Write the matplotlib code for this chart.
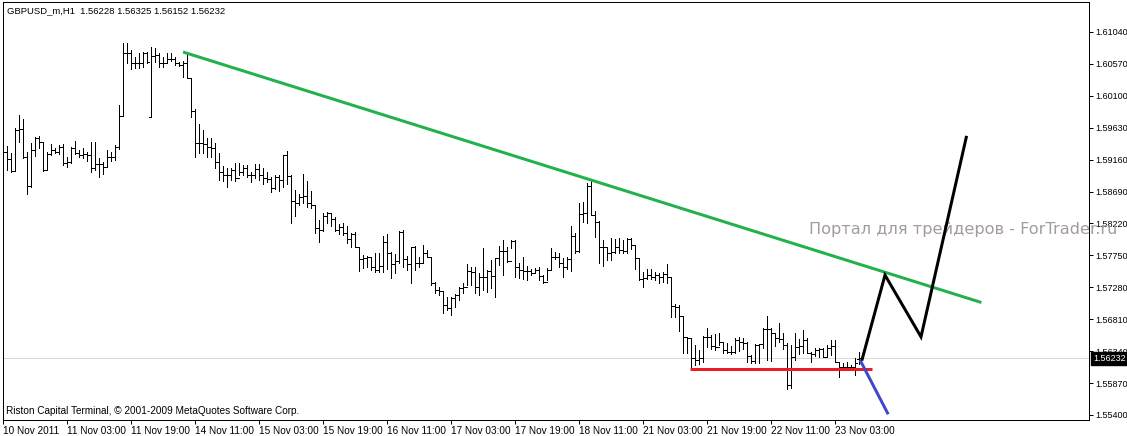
import matplotlib
matplotlib.use("Agg")
import matplotlib.pyplot as plt
import matplotlib.transforms as mtransforms
import numpy as np

# ---------------- data (GBPUSD_m, H1) ----------------
time_labels = ["10 Nov 2011", "11 Nov 03:00", "11 Nov 19:00", "14 Nov 11:00",
               "15 Nov 03:00", "15 Nov 19:00", "16 Nov 11:00", "17 Nov 03:00",
               "17 Nov 19:00", "18 Nov 11:00", "21 Nov 03:00", "21 Nov 19:00",
               "22 Nov 11:00", "23 Nov 03:00"]
label_bar_index = [0, 16, 32, 48, 64, 80, 96, 112, 128, 144, 160, 176, 192, 208]

closes = [
    1.5927, 1.5917, 1.5899, 1.5960, 1.5961, 1.5920, 1.5877, 1.5930, 1.5948, 1.5942,
    1.5901, 1.5924, 1.5930, 1.5927, 1.5935, 1.5911, 1.5913, 1.5933, 1.5926, 1.5923,
    1.5924, 1.5923, 1.5904, 1.5910, 1.5910, 1.5905, 1.5920, 1.5920, 1.5935, 1.5980,
    1.6073, 1.6073, 1.6058, 1.6058, 1.6058, 1.6073, 1.6060, 1.6069, 1.6070, 1.6058,
    1.6058, 1.6064, 1.6064, 1.6058, 1.6055, 1.6058, 1.6036, 1.5988, 1.5941, 1.5941,
    1.5939, 1.5935, 1.5933, 1.5913, 1.5898, 1.5893, 1.5893, 1.5901, 1.5889, 1.5898,
    1.5904, 1.5893, 1.5893, 1.5902, 1.5893, 1.5889, 1.5887, 1.5874, 1.5890, 1.5886,
    1.5923, 1.5892, 1.5855, 1.5852, 1.5861, 1.5862, 1.5852, 1.5849, 1.5815, 1.5812,
    1.5833, 1.5837, 1.5829, 1.5812, 1.5817, 1.5808, 1.5799, 1.5806, 1.5787, 1.5770,
    1.5771, 1.5773, 1.5758, 1.5754, 1.5759, 1.5795, 1.5779, 1.5762, 1.5767, 1.5809,
    1.5770, 1.5762, 1.5787, 1.5764, 1.5764, 1.5779, 1.5773, 1.5734, 1.5724, 1.5723,
    1.5702, 1.5698, 1.5712, 1.5717, 1.5727, 1.5728, 1.5752, 1.5751, 1.5728, 1.5743,
    1.5743, 1.5752, 1.5745, 1.5771, 1.5781, 1.5781, 1.5767, 1.5796, 1.5758, 1.5754,
    1.5752, 1.5752, 1.5749, 1.5754, 1.5745, 1.5736, 1.5754, 1.5773, 1.5773, 1.5764,
    1.5758, 1.5770, 1.5804, 1.5781, 1.5836, 1.5837, 1.5877, 1.5834, 1.5824, 1.5787,
    1.5787, 1.5779, 1.5780, 1.5787, 1.5783, 1.5781, 1.5799, 1.5790, 1.5771, 1.5740,
    1.5742, 1.5746, 1.5743, 1.5746, 1.5743, 1.5748, 1.5743, 1.5700, 1.5699, 1.5686,
    1.5655, 1.5653, 1.5624, 1.5621, 1.5624, 1.5655, 1.5655, 1.5642, 1.5640, 1.5647,
    1.5636, 1.5633, 1.5633, 1.5650, 1.5647, 1.5646, 1.5627, 1.5620, 1.5643, 1.5645,
    1.5667, 1.5667, 1.5661, 1.5653, 1.5652, 1.5643, 1.5584, 1.5625, 1.5640, 1.5642,
    1.5650, 1.5631, 1.5630, 1.5636, 1.5637, 1.5625, 1.5639, 1.5642, 1.5618, 1.5611,
    1.5611, 1.5611, 1.5611, 1.5617, 1.56232]

opens = [
    1.5923, 1.5927, 1.5917, 1.5899, 1.5960, 1.5961, 1.5920, 1.5877, 1.5930, 1.5948,
    1.5942, 1.5901, 1.5924, 1.5930, 1.5927, 1.5935, 1.5911, 1.5913, 1.5933, 1.5926,
    1.5923, 1.5924, 1.5923, 1.5904, 1.5910, 1.5910, 1.5905, 1.5920, 1.5920, 1.5935,
    1.5980, 1.6073, 1.6073, 1.6058, 1.6058, 1.6058, 1.6073, 1.5979, 1.6069, 1.6070,
    1.6058, 1.6058, 1.6064, 1.6064, 1.6058, 1.6055, 1.6058, 1.6036, 1.5988, 1.5941,
    1.5941, 1.5939, 1.5935, 1.5933, 1.5913, 1.5898, 1.5893, 1.5893, 1.5901, 1.5889,
    1.5898, 1.5904, 1.5893, 1.5893, 1.5902, 1.5893, 1.5889, 1.5887, 1.5874, 1.5890,
    1.5886, 1.5923, 1.5892, 1.5855, 1.5852, 1.5861, 1.5862, 1.5852, 1.5849, 1.5815,
    1.5812, 1.5833, 1.5837, 1.5829, 1.5812, 1.5817, 1.5808, 1.5799, 1.5806, 1.5787,
    1.5770, 1.5771, 1.5773, 1.5758, 1.5754, 1.5759, 1.5795, 1.5779, 1.5762, 1.5767,
    1.5809, 1.5770, 1.5762, 1.5787, 1.5764, 1.5764, 1.5779, 1.5773, 1.5734, 1.5724,
    1.5723, 1.5702, 1.5698, 1.5712, 1.5717, 1.5727, 1.5728, 1.5752, 1.5751, 1.5728,
    1.5743, 1.5743, 1.5752, 1.5745, 1.5771, 1.5781, 1.5781, 1.5767, 1.5796, 1.5758,
    1.5754, 1.5752, 1.5752, 1.5749, 1.5754, 1.5745, 1.5736, 1.5754, 1.5773, 1.5773,
    1.5764, 1.5758, 1.5770, 1.5804, 1.5781, 1.5836, 1.5837, 1.5877, 1.5834, 1.5824,
    1.5787, 1.5787, 1.5779, 1.5780, 1.5787, 1.5783, 1.5781, 1.5799, 1.5790, 1.5771,
    1.5740, 1.5742, 1.5746, 1.5743, 1.5746, 1.5743, 1.5748, 1.5743, 1.5700, 1.5699,
    1.5686, 1.5655, 1.5653, 1.5624, 1.5621, 1.5624, 1.5655, 1.5655, 1.5642, 1.5640,
    1.5647, 1.5636, 1.5633, 1.5633, 1.5650, 1.5647, 1.5646, 1.5627, 1.5620, 1.5643,
    1.5645, 1.5667, 1.5667, 1.5661, 1.5653, 1.5652, 1.5643, 1.5584, 1.5625, 1.5640,
    1.5642, 1.5650, 1.5631, 1.5630, 1.5636, 1.5637, 1.5625, 1.5639, 1.5642, 1.5618,
    1.5611, 1.5611, 1.5611, 1.5611, 1.56228]

highs = [
    1.5935, 1.5936, 1.5926, 1.5963, 1.5982, 1.5976, 1.5927, 1.5941, 1.5949, 1.5951,
    1.5942, 1.5927, 1.5939, 1.5933, 1.5938, 1.5939, 1.5920, 1.5935, 1.5943, 1.5930,
    1.5933, 1.5927, 1.5942, 1.5942, 1.5918, 1.5913, 1.5930, 1.5927, 1.5938, 1.5996,
    1.6088, 1.6088, 1.6078, 1.6067, 1.6073, 1.6075, 1.6075, 1.6082, 1.6080, 1.6073,
    1.6067, 1.6073, 1.6073, 1.6067, 1.6060, 1.6061, 1.6070, 1.6036, 1.5991, 1.5969,
    1.5960, 1.5948, 1.5948, 1.5941, 1.5926, 1.5907, 1.5904, 1.5904, 1.5911, 1.5911,
    1.5908, 1.5908, 1.5898, 1.5910, 1.5910, 1.5904, 1.5898, 1.5890, 1.5893, 1.5893,
    1.5923, 1.5929, 1.5893, 1.5871, 1.5865, 1.5895, 1.5885, 1.5870, 1.5849, 1.5827,
    1.5837, 1.5839, 1.5837, 1.5832, 1.5821, 1.5823, 1.5818, 1.5808, 1.5809, 1.5787,
    1.5776, 1.5774, 1.5771, 1.5779, 1.5779, 1.5804, 1.5806, 1.5780, 1.5777, 1.5811,
    1.5812, 1.5774, 1.5787, 1.5789, 1.5773, 1.5790, 1.5783, 1.5773, 1.5736, 1.5728,
    1.5723, 1.5714, 1.5714, 1.5718, 1.5728, 1.5734, 1.5762, 1.5758, 1.5758, 1.5749,
    1.5786, 1.5754, 1.5768, 1.5771, 1.5789, 1.5798, 1.5787, 1.5798, 1.5798, 1.5764,
    1.5773, 1.5759, 1.5755, 1.5756, 1.5758, 1.5746, 1.5756, 1.5786, 1.5780, 1.5779,
    1.5771, 1.5773, 1.5818, 1.5808, 1.5852, 1.5854, 1.5882, 1.5886, 1.5840, 1.5826,
    1.5798, 1.5787, 1.5801, 1.5799, 1.5801, 1.5798, 1.5801, 1.5801, 1.5790, 1.5771,
    1.5751, 1.5755, 1.5755, 1.5751, 1.5749, 1.5751, 1.5762, 1.5743, 1.5703, 1.5702,
    1.5686, 1.5655, 1.5653, 1.5643, 1.5636, 1.5656, 1.5668, 1.5658, 1.5659, 1.5661,
    1.5647, 1.5646, 1.5642, 1.5653, 1.5655, 1.5653, 1.5647, 1.5628, 1.5645, 1.5645,
    1.5668, 1.5686, 1.5668, 1.5661, 1.5676, 1.5661, 1.5646, 1.5643, 1.5661, 1.5652,
    1.5665, 1.5653, 1.5633, 1.5639, 1.5639, 1.5639, 1.5643, 1.5650, 1.5650, 1.5618,
    1.5617, 1.5618, 1.5614, 1.5624, 1.56325]

lows = [
    1.5905, 1.5901, 1.5898, 1.5899, 1.5942, 1.5918, 1.5865, 1.5876, 1.5921, 1.5933,
    1.5899, 1.5901, 1.5923, 1.5926, 1.5924, 1.5908, 1.5905, 1.5911, 1.5924, 1.5920,
    1.5918, 1.5914, 1.5898, 1.5901, 1.5890, 1.5895, 1.5905, 1.5914, 1.5916, 1.5932,
    1.5980, 1.6058, 1.6049, 1.6051, 1.6051, 1.6052, 1.6058, 1.5979, 1.6060, 1.6052,
    1.6052, 1.6060, 1.6061, 1.6055, 1.6054, 1.6038, 1.6036, 1.5979, 1.5920, 1.5926,
    1.5926, 1.5920, 1.5920, 1.5904, 1.5886, 1.5885, 1.5876, 1.5886, 1.5885, 1.5893,
    1.5893, 1.5890, 1.5883, 1.5889, 1.5886, 1.5880, 1.5883, 1.5868, 1.5873, 1.5870,
    1.5876, 1.5880, 1.5823, 1.5833, 1.5849, 1.5852, 1.5846, 1.5845, 1.5808, 1.5795,
    1.5811, 1.5823, 1.5818, 1.5811, 1.5806, 1.5805, 1.5793, 1.5787, 1.5787, 1.5752,
    1.5756, 1.5758, 1.5754, 1.5751, 1.5751, 1.5751, 1.5755, 1.5742, 1.5749, 1.5764,
    1.5758, 1.5754, 1.5734, 1.5754, 1.5758, 1.5764, 1.5773, 1.5731, 1.5720, 1.5717,
    1.5690, 1.5695, 1.5687, 1.5699, 1.5709, 1.5720, 1.5731, 1.5731, 1.5720, 1.5717,
    1.5724, 1.5721, 1.5727, 1.5714, 1.5761, 1.5746, 1.5765, 1.5786, 1.5743, 1.5742,
    1.5740, 1.5739, 1.5746, 1.5749, 1.5739, 1.5734, 1.5739, 1.5754, 1.5770, 1.5758,
    1.5743, 1.5755, 1.5752, 1.5779, 1.5780, 1.5824, 1.5823, 1.5834, 1.5802, 1.5764,
    1.5759, 1.5768, 1.5768, 1.5779, 1.5779, 1.5779, 1.5779, 1.5784, 1.5755, 1.5739,
    1.5728, 1.5740, 1.5740, 1.5739, 1.5734, 1.5736, 1.5734, 1.5684, 1.5684, 1.5664,
    1.5631, 1.5631, 1.5611, 1.5614, 1.5615, 1.5618, 1.5640, 1.5637, 1.5636, 1.5643,
    1.5631, 1.5631, 1.5630, 1.5631, 1.5634, 1.5637, 1.5618, 1.5617, 1.5617, 1.5617,
    1.5639, 1.5621, 1.5620, 1.5642, 1.5647, 1.5637, 1.5578, 1.5580, 1.5621, 1.5630,
    1.5631, 1.5631, 1.5618, 1.5627, 1.5625, 1.5625, 1.5625, 1.5628, 1.5618, 1.5596,
    1.5609, 1.5609, 1.5606, 1.5599, 1.56152]

# Hand-drawn analysis lines (bar index, price)
trend_green_x = [45.0, 244.6]
trend_green_y = [1.60745, 1.57056]
support_red_x = [171.75, 217.25]
support_red_y = [1.56075, 1.56075]
blue_x = [214.25, 221.3]
blue_y = [1.56210, 1.55410]
zigzag_x = [214.7, 220.5, 229.5, 240.9]
zigzag_y = [1.56200, 1.57460, 1.56550, 1.59510]

y_ticks = [1.61040, 1.60570, 1.60100, 1.59630, 1.59160, 1.58690, 1.58220,
           1.57750, 1.57280, 1.56810, 1.56340, 1.55870, 1.55400]
current_price = 1.56232
header_text = "GBPUSD_m,H1  1.56228 1.56325 1.56152 1.56232"
footer_text = "Riston Capital Terminal, \u00a9 2001-2009 MetaQuotes Software Corp."
watermark_text = "Портал для трейдеров - ForTrader.ru"

# ---------------- figure ----------------
W, H = 1127, 436
fig = plt.figure(figsize=(W / 100, H / 100), dpi=100)
fig.patch.set_facecolor("white")
ax = fig.add_axes([2.5 / W, (H - 419.5) / H, (1089 - 2.5) / W, (419.5 - 2.5) / H])
ax.set_facecolor("white")

PX = 0.72  # one pixel in points
FONT = "Liberation Sans"

x = np.arange(len(closes))
ax.set_xlim(-0.125, 271.5)
ax.set_ylim(1.55333, 1.61474)

# current price dotted line
ax.axhline(current_price, color="#b4b4b4", lw=PX, ls=(0, (1, 1)), zorder=1)

# OHLC bars
ax.vlines(x, lows, highs, color="black", lw=PX, antialiased=False, zorder=3)
ax.hlines(opens, x - 0.5, x, color="black", lw=PX, antialiased=False, zorder=3)
ax.hlines(closes, x, x + 0.5, color="black", lw=PX, antialiased=False, zorder=3)

# analysis lines
ax.plot(trend_green_x, trend_green_y, color="#22b14c", lw=3 * PX, solid_capstyle="butt", zorder=4)
ax.plot(support_red_x, support_red_y, color="#ed1c24", lw=3 * PX, solid_capstyle="butt", zorder=4)
ax.plot(blue_x, blue_y, color="#3f48cc", lw=3 * PX, solid_capstyle="butt", zorder=4)
ax.plot(zigzag_x, zigzag_y, color="black", lw=3 * PX, solid_capstyle="butt",
        solid_joinstyle="miter", zorder=5)

# axes styling
for s in ax.spines.values():
    s.set_color("black")
    s.set_linewidth(PX)

ax.yaxis.tick_right()
ax.set_yticks(y_ticks)
ax.set_yticklabels([f"{v:.5f}" for v in y_ticks], fontfamily=FONT, fontsize=6.5)
ax.tick_params(axis="y", which="both", direction="out", length=3, width=PX,
               pad=1.5, colors="black", left=False)

ax.set_xticks(label_bar_index)
ax.set_xticklabels(time_labels, fontfamily=FONT, fontsize=7.2, ha="left")
ax.tick_params(axis="x", direction="out", length=3, width=PX, pad=1.5, colors="black")

# current price box on the price scale
trans = mtransforms.blended_transform_factory(ax.transAxes, ax.transData)
ax.text(1.0 + 4.0 / (1089 - 2.5), current_price, f"{current_price:.5f}", transform=trans,
        color="white", fontsize=6.5, fontfamily=FONT, va="center", ha="left",
        bbox=dict(boxstyle="square,pad=0.2", fc="black", ec="black"),
        clip_on=False, zorder=10)

# texts
ax.text(4.5 / (1089 - 2.5), 1 - 8.5 / 417, header_text, transform=ax.transAxes,
        fontfamily=FONT, fontsize=6.8, va="center", ha="left", color="black")
ax.text(3.5 / (1089 - 2.5), (419.5 - 411) / 417, footer_text, transform=ax.transAxes,
        fontfamily=FONT, fontsize=7.2, va="center", ha="left", color="black")
ax.text((809 - 2.5) / (1089 - 2.5), (419.5 - 229) / 417, watermark_text,
        transform=ax.transAxes, fontfamily="DejaVu Sans", fontsize=11.6,
        va="center", ha="left", color="#a49c9c", clip_on=False, zorder=2)

fig.savefig("out.png", dpi=100, facecolor="white")
